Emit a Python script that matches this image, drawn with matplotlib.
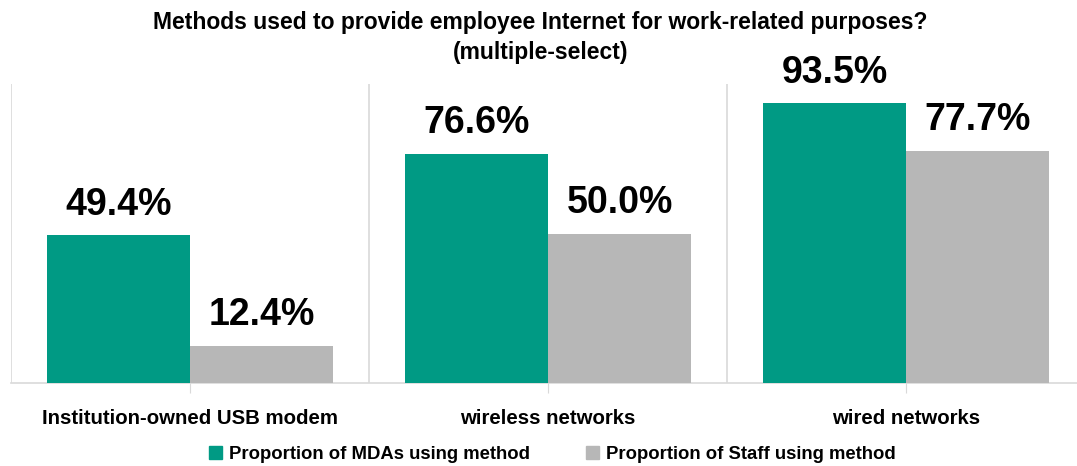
import numpy as np
import matplotlib
matplotlib.use("Agg")
import matplotlib.pyplot as plt
from matplotlib.patches import Patch

plt.rcParams.update({
    "font.family": ["Liberation Sans", "DejaVu Sans"],
    "font.weight": "bold",
})

TEAL = "#009a84"
GREY = "#b7b7b7"
GRID = "#d9d9d9"

categories = ["Institution-owned USB modem", "wireless networks", "wired networks"]
mda_share = [49.4, 76.6, 93.5]
staff_share = [12.4, 50.0, 77.7]
series_names = ["Proportion of MDAs using method", "Proportion of Staff using method"]

fig = plt.figure(figsize=(10.77, 4.66), dpi=100)
ax = fig.add_axes([11 / 1077, 1 - 383 / 466, 1074 / 1077, (383 - 84) / 466])

x = np.arange(len(categories))
w = 0.4
b1 = ax.bar(x - w / 2, mda_share, w, color=TEAL, zorder=3)
b2 = ax.bar(x + w / 2, staff_share, w, color=GREY, zorder=3)

for bars in (b1, b2):
    for r in bars:
        ax.annotate(f"{r.get_height():.1f}%",
                    (r.get_x() + r.get_width() / 2, r.get_height()),
                    xytext=(0, 9), textcoords="offset points",
                    ha="center", va="bottom", fontsize=27, fontweight="bold")

ax.set_xlim(-0.5, len(categories) - 0.5)
ax.set_ylim(0, 100)
ax.set_yticks([])
ax.set_xticks(x)
ax.set_xticklabels(categories, fontsize=14.7, fontweight="bold")
ax.tick_params(axis="x", length=7, color=GRID, pad=12)

# category separators
for b in np.arange(-0.5, len(categories), 1.0):
    ax.axvline(b, color=GRID, lw=1.2, zorder=1)

for s in ("top", "right", "left"):
    ax.spines[s].set_visible(False)
ax.spines["bottom"].set_color(GRID)
ax.spines["bottom"].set_linewidth(1.2)

fig.text(0.502, 0.952, "Methods used to provide employee Internet for work-related purposes?",
         ha="center", va="center", fontsize=16.5, fontweight="bold")
fig.text(0.502, 0.887, "(multiple-select)",
         ha="center", va="center", fontsize=16.5, fontweight="bold")

handles = [Patch(color=TEAL), Patch(color=GREY)]
fig.legend(handles, series_names, loc="center", bbox_to_anchor=(0.513, 0.024),
           ncol=2, frameon=False, fontsize=13.3, handlelength=0.7, handleheight=0.7,
           handletextpad=0.4, columnspacing=3.0)

fig.savefig("out.png", dpi=100)
